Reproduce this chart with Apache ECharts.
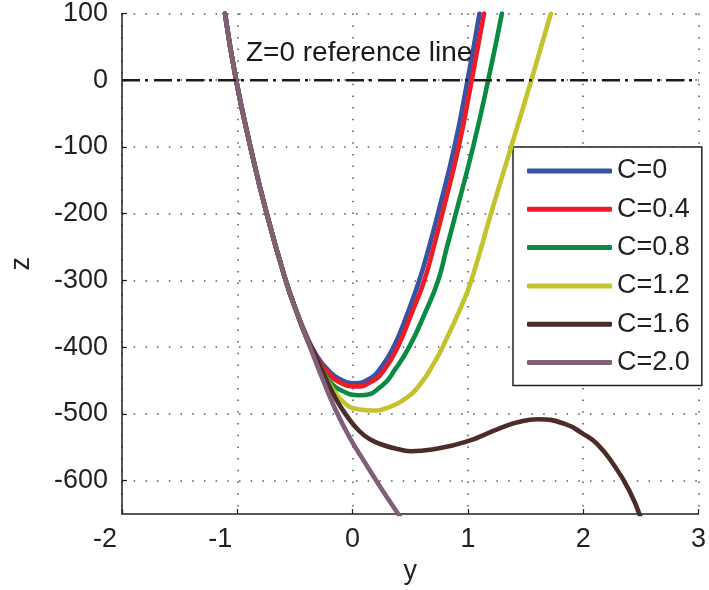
<!DOCTYPE html>
<html>
<head>
<meta charset="utf-8">
<script src="https://cdn.jsdelivr.net/npm/echarts@6/dist/echarts.min.js"></script>
<style>
html,body{margin:0;padding:0;background:#fff;}
#c{width:709px;height:590px;}
</style>
</head>
<body>
<div id="c"></div>
<script>
// ---- data ----
var seriesNames = ['C=0', 'C=0.4', 'C=0.8', 'C=1.2', 'C=1.6', 'C=2.0'];
var xTicks = [-2, -1, 0, 1, 2, 3];
var zTicks = [-600, -500, -400, -300, -200, -100, 0, 100];

// shared left branch (y, z)
var commonY = [-1.107, -1.01, -0.886, -0.745, -0.58, -0.49];
var commonZ = [100, 0, -100, -200, -300, -345];

var c0Y = [-0.40, -0.31, -0.22, -0.12, 0.016, 0.159, 0.244, 0.355, 0.475, 0.578, 0.663, 0.74, 0.883, 0.997, 1.101];
var c0Z = [-383, -413, -433, -447, -454, -446, -431, -400, -350, -300, -250, -200, -100, 0, 100];

var c04Y = [-0.40, -0.31, -0.22, -0.12, 0.03, 0.17, 0.27, 0.39, 0.51, 0.622, 0.703, 0.778, 0.92, 1.033, 1.14];
var c04Z = [-384, -416, -437, -452, -459, -451, -435, -400, -350, -300, -250, -200, -100, 0, 100];

var c08Y = [-0.40, -0.31, -0.22, -0.12, 0.08, 0.26, 0.37, 0.49, 0.625, 0.742, 0.818, 0.895, 1.045, 1.176, 1.295];
var c08Z = [-385, -420, -446, -463, -472, -457, -433, -400, -350, -300, -250, -200, -100, 0, 100];

var c12Y = [-0.40, -0.30, -0.19, -0.069, 0.05, 0.172, 0.30, 0.442, 0.585, 0.726, 0.78, 0.94, 1.03, 1.2, 1.375, 1.55, 1.72];
var c12Z = [-386, -422, -458, -484, -493, -495, -491, -479, -456, -418, -400, -340, -300, -200, -100, 0, 100];

var c16Y = [-0.40, -0.33, -0.25, -0.15, -0.05, 0.06, 0.15, 0.27, 0.4, 0.51, 0.7, 0.98, 1.27, 1.44, 1.61, 1.84, 2.0, 2.12, 2.26, 2.40, 2.50];
var c16Z = [-386, -410, -440, -476, -503, -526, -538, -547, -553, -556, -553, -542, -522, -512, -508, -515, -530, -545, -575, -615, -656];

var c20Y = [-0.425, -0.36, -0.26, -0.15, -0.02, 0.1, 0.25, 0.40, 0.42];
var c20Z = [-375, -404, -448, -493, -537, -571, -612, -651, -656];

var refY = [-2, 3];
var refZ = [0, 0];
var refLabelAt = [-0.925, 40];
var refLabelText = 'Z=0 reference line';

// ---- build ----
var colors = ['#3953a4', '#ed1c24', '#0a8a43', '#c3c32e', '#4b2c28', '#7f6078'];
function pairs(xs, zs) { return xs.map(function (x, i) { return [x, zs[i]]; }); }
var branchY = [c0Y, c04Y, c08Y, c12Y, c16Y, c20Y];
var branchZ = [c0Z, c04Z, c08Z, c12Z, c16Z, c20Z];

var FONT = '"Liberation Sans", Arial, Helvetica, sans-serif';
var TXT = '#231f20';

var series = seriesNames.map(function (n, i) {
  return {
    name: n,
    type: 'line',
    data: pairs(commonY.concat(branchY[i]), commonZ.concat(branchZ[i])),
    showSymbol: false,
    symbol: 'none',
    smooth: 0.5,
    clip: true,
    lineStyle: { color: colors[i], width: 4.6, cap: 'round', join: 'round' },
    itemStyle: { color: colors[i] },
    z: 3 + i
  };
});
series.push({
  name: 'ref',
  type: 'line',
  data: pairs(refY, refZ),
  showSymbol: false,
  symbol: 'none',
  silent: true,
  lineStyle: { color: '#1a1a1a', width: 2.5, type: [18, 5, 3, 6] },
  z: 10
});

var gridLine = { show: true, lineStyle: { color: '#555', width: 1.5, type: [1.5, 10.2] } };

var option = {
  backgroundColor: '#fff',
  animation: false,
  grid: { left: 113.5, right: 9, top: 13, bottom: 76, containLabel: false },
  xAxis: {
    type: 'value', min: -2, max: 3, interval: 1,
    name: 'y', nameLocation: 'middle', nameGap: 42,
    nameTextStyle: { fontFamily: FONT, fontSize: 27, color: TXT },
    axisLine: { show: true, onZero: false, lineStyle: { color: '#231f20', width: 1.5 } },
    axisTick: { show: true, inside: true, length: 5, lineStyle: { color: '#231f20', width: 1.2 } },
    axisLabel: {
      fontFamily: FONT, fontSize: 27, color: TXT, margin: 12,
      formatter: function (v) { return v < 0 ? '{neg|' + v + '}' : String(v); },
      rich: { neg: { fontFamily: FONT, fontSize: 27, color: TXT, padding: [0, 34, 0, 0] } }
    },
    splitLine: gridLine
  },
  yAxis: {
    type: 'value', min: -650, max: 100,
    name: 'z', nameLocation: 'middle', nameGap: 87, nameRotate: 90,
    nameTextStyle: { fontFamily: FONT, fontSize: 27, color: TXT },
    axisLine: { show: true, onZero: false, lineStyle: { color: '#231f20', width: 1.5 } },
    axisTick: { show: true, inside: true, length: 5, customValues: zTicks, lineStyle: { color: '#231f20', width: 1.2 } },
    axisLabel: { fontFamily: FONT, fontSize: 27, color: TXT, margin: 14, customValues: zTicks },
    splitLine: gridLine
  },
  legend: {
    data: seriesNames,
    orient: 'vertical',
    left: 513, top: 147,
    padding: [9, 12, 8, 14],
    itemGap: 8.3,
    itemWidth: 85,
    itemHeight: 5,
    icon: 'roundRect',
    backgroundColor: '#fff',
    borderColor: '#231f20',
    borderWidth: 1.5,
    borderRadius: 0,
    textStyle: { fontFamily: FONT, fontSize: 27, color: TXT, lineHeight: 30 },
    selectedMode: false
  },
  series: series
};
var chart = echarts.init(document.getElementById('c'), null, { renderer: 'canvas' });
chart.setOption(option);
var p = chart.convertToPixel({ gridIndex: 0 }, refLabelAt);
chart.setOption({
  graphic: [{
    type: 'text', x: p[0], y: p[1], z: 100, silent: true,
    style: {
      text: refLabelText, fill: '#1a1a1a',
      font: '28px "Liberation Sans", Arial, sans-serif',
      align: 'left', verticalAlign: 'middle'
    }
  }]
});
</script>
</body>
</html>
